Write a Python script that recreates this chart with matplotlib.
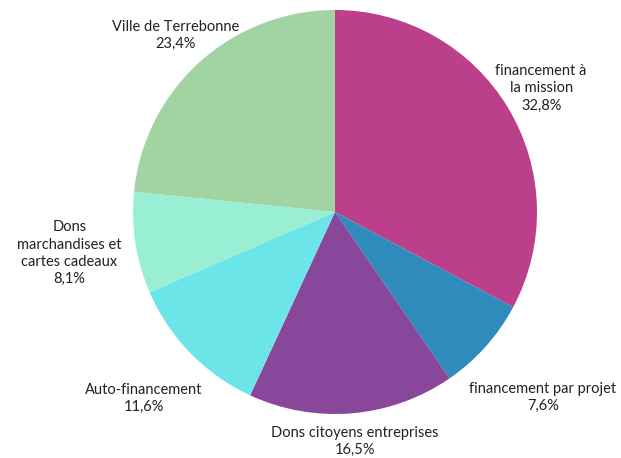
import matplotlib
matplotlib.use("Agg")
import matplotlib.pyplot as plt
import numpy as np

categories = ["financement à\nla mission", "financement par projet", "Dons citoyens entreprises",
              "Auto-financement", "Dons\nmarchandises et\ncartes cadeaux", "Ville de Terrebonne"]
values = [32.8, 7.6, 16.5, 11.6, 8.1, 23.4]
value_labels = ["32,8%", "7,6%", "16,5%", "11,6%", "8,1%", "23,4%"]
colors = ["#BC3F8C", "#2E8BBB", "#88479B", "#6BE5E8", "#99EFD4", "#A2D3A3"]
label_dist = [1.19, 1.38, 1.14, 1.32, 1.33, 1.18]

W, H = 621, 458
fig = plt.figure(figsize=(W / 100, H / 100), dpi=100)
cx, cy, R = 335, 458 - 212, 202
ax = fig.add_axes([(cx - R) / W, (cy - R) / H, 2 * R / W, 2 * R / H])
wedges, _ = ax.pie(values, colors=colors, startangle=90, counterclock=False,
                   wedgeprops=dict(linewidth=0))
ax.set_xlim(-1, 1)
ax.set_ylim(-1, 1)
ax.set_aspect("equal")
ax.axis("off")

total = sum(values)
for w, cat, vl, d in zip(wedges, categories, value_labels, label_dist):
    ang = np.deg2rad((w.theta1 + w.theta2) / 2)
    x, y = d * np.cos(ang), d * np.sin(ang)
    ax.text(x, y, f"{cat}\n{vl}", ha="center", va="center", fontsize=10.5,
            family=["Lato", "DejaVu Sans"], color="#222222", linespacing=1.3,
            clip_on=False)

fig.savefig("out.png", dpi=100)
